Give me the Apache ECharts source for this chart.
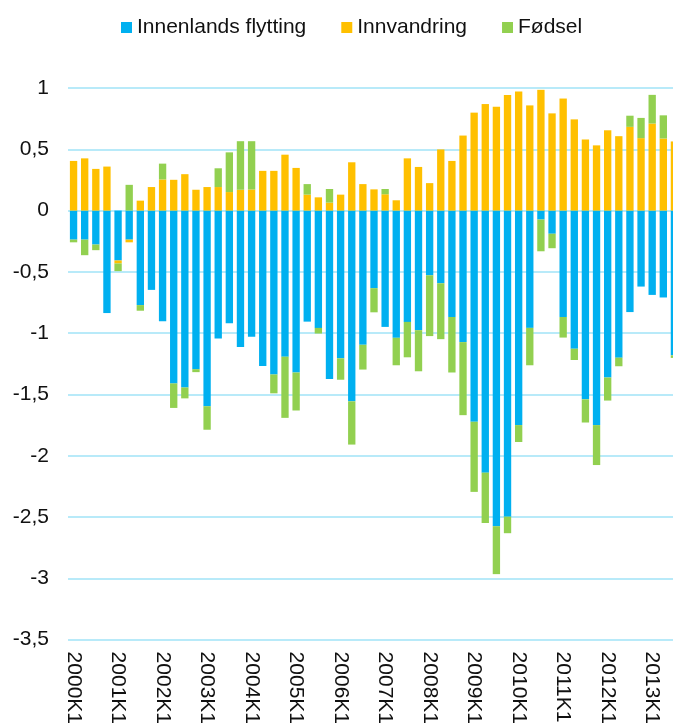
<!DOCTYPE html>
<html>
<head>
<meta charset="utf-8">
<script src="https://cdn.jsdelivr.net/npm/echarts@6/dist/echarts.min.js"></script>
<style>
    html, body { margin: 0; padding: 0; overflow: hidden; background: #fff; }
    #chart { width: 690px; height: 727px; }
</style>
</head>
<body>
<div id="chart"></div>
<script>
var years = [2000, 2001, 2002, 2003, 2004, 2005, 2006, 2007, 2008, 2009, 2010, 2011, 2012, 2013];
var quarters = ['K1', 'K2', 'K3', 'K4'];

var innenlands = [
    -0.237, -0.237, -0.277, -0.836, -0.407, -0.237, -0.771, -0.647,
    -0.903, -1.41, -1.443, -1.294, -1.596, -1.044, -0.919, -1.113,
    -1.03, -1.267, -1.337, -1.192, -1.321, -0.906, -0.957, -1.375,
    -1.205, -1.556, -1.095, -0.633, -0.949, -1.038, -0.908, -0.976,
    -0.528, -0.593, -0.868, -1.073, -1.723, -2.138, -2.575, -2.497,
    -1.75, -0.957, -0.073, -0.189, -0.868, -1.127, -1.54, -1.75,
    -1.362, -1.2, -0.828, -0.62, -0.688, -0.709, -1.181
];
var innvandring = [
    0.405, 0.426, 0.34, 0.359, -0.024, -0.022, 0.081, 0.192,
    0.254, 0.251, 0.297, 0.17, 0.192, 0.192, 0.151, 0.17,
    0.172, 0.324, 0.324, 0.456, 0.348, 0.13, 0.108, 0.065,
    0.13, 0.394, 0.216, 0.173, 0.133, 0.084, 0.426, 0.356,
    0.224, 0.499, 0.405, 0.612, 0.799, 0.869, 0.847, 0.942,
    0.971, 0.858, 0.985, 0.793, 0.914, 0.744, 0.58, 0.532,
    0.655, 0.607, 0.683, 0.591, 0.71, 0.588, 0.564
];
var fodsel = [
    -0.022, -0.127, -0.046, 0, -0.063, 0.21, -0.046, 0,
    0.129, -0.2, -0.089, -0.024, -0.192, 0.153, 0.324, 0.396,
    0.394, 0, -0.154, -0.499, -0.31, 0.086, -0.046, 0.111,
    -0.175, -0.353, -0.202, -0.197, 0.043, -0.224, -0.289, -0.335,
    -0.496, -0.456, -0.453, -0.596, -0.572, -0.411, -0.391, -0.135,
    -0.138, -0.305, -0.259, -0.118, -0.168, -0.092, -0.189, -0.326,
    -0.188, -0.07, 0.091, 0.165, 0.234, 0.189, -0.021
];

var seriesNames = ['Innenlands flytting', 'Innvandring', 'Fødsel'];
var colors = ['#00B0F0', '#FFC000', '#92D050'];

// kvartaler 2000K1 .. så langt som dataene rekker
var categories = [];
for (var i = 0; i < years.length; i++)
    for (var q = 0; q < quarters.length; q++)
        categories.push(years[i] + quarters[q]);
categories = categories.slice(0, innenlands.length);

var font = 'Liberation Sans, Arial, sans-serif';

function barSeries(name, values) {
    return {
        name: name,
        type: 'bar',
        stack: 'total',
        barWidth: '66%',
        data: values
    };
}

var chart = echarts.init(document.getElementById('chart'));
chart.setOption({
    animation: false,
    color: colors,
    textStyle: { fontFamily: font },
    legend: {
        data: seriesNames,
        left: 121,
        top: 17,
        padding: 0,
        itemWidth: 11,
        itemHeight: 11,
        itemGap: 35,
        icon: 'rect',
        textStyle: { fontSize: 21, color: '#111', fontFamily: font }
    },
    grid: { left: 68, right: 10, top: 88, bottom: 83 },
    xAxis: {
        type: 'category',
        data: categories,
        axisLine: { show: false },
        axisTick: { show: false },
        axisLabel: {
            interval: 3,
            rotate: -90,
            margin: 12,
            fontSize: 21,
            color: '#111',
            fontFamily: font
        }
    },
    yAxis: {
        type: 'value',
        min: -3.5,
        max: 1,
        interval: 0.5,
        axisLine: { show: false },
        axisTick: { show: false },
        axisLabel: {
            margin: 19,
            fontSize: 21,
            color: '#111',
            fontFamily: font,
            formatter: function(v) { return String(v).replace('.', ','); }
        },
        splitLine: { lineStyle: { color: '#B8EAF9', width: 2 } }
    },
    series: [
        barSeries(seriesNames[0], innenlands),
        barSeries(seriesNames[1], innvandring),
        barSeries(seriesNames[2], fodsel)
    ]
});
</script>
</body>
</html>
